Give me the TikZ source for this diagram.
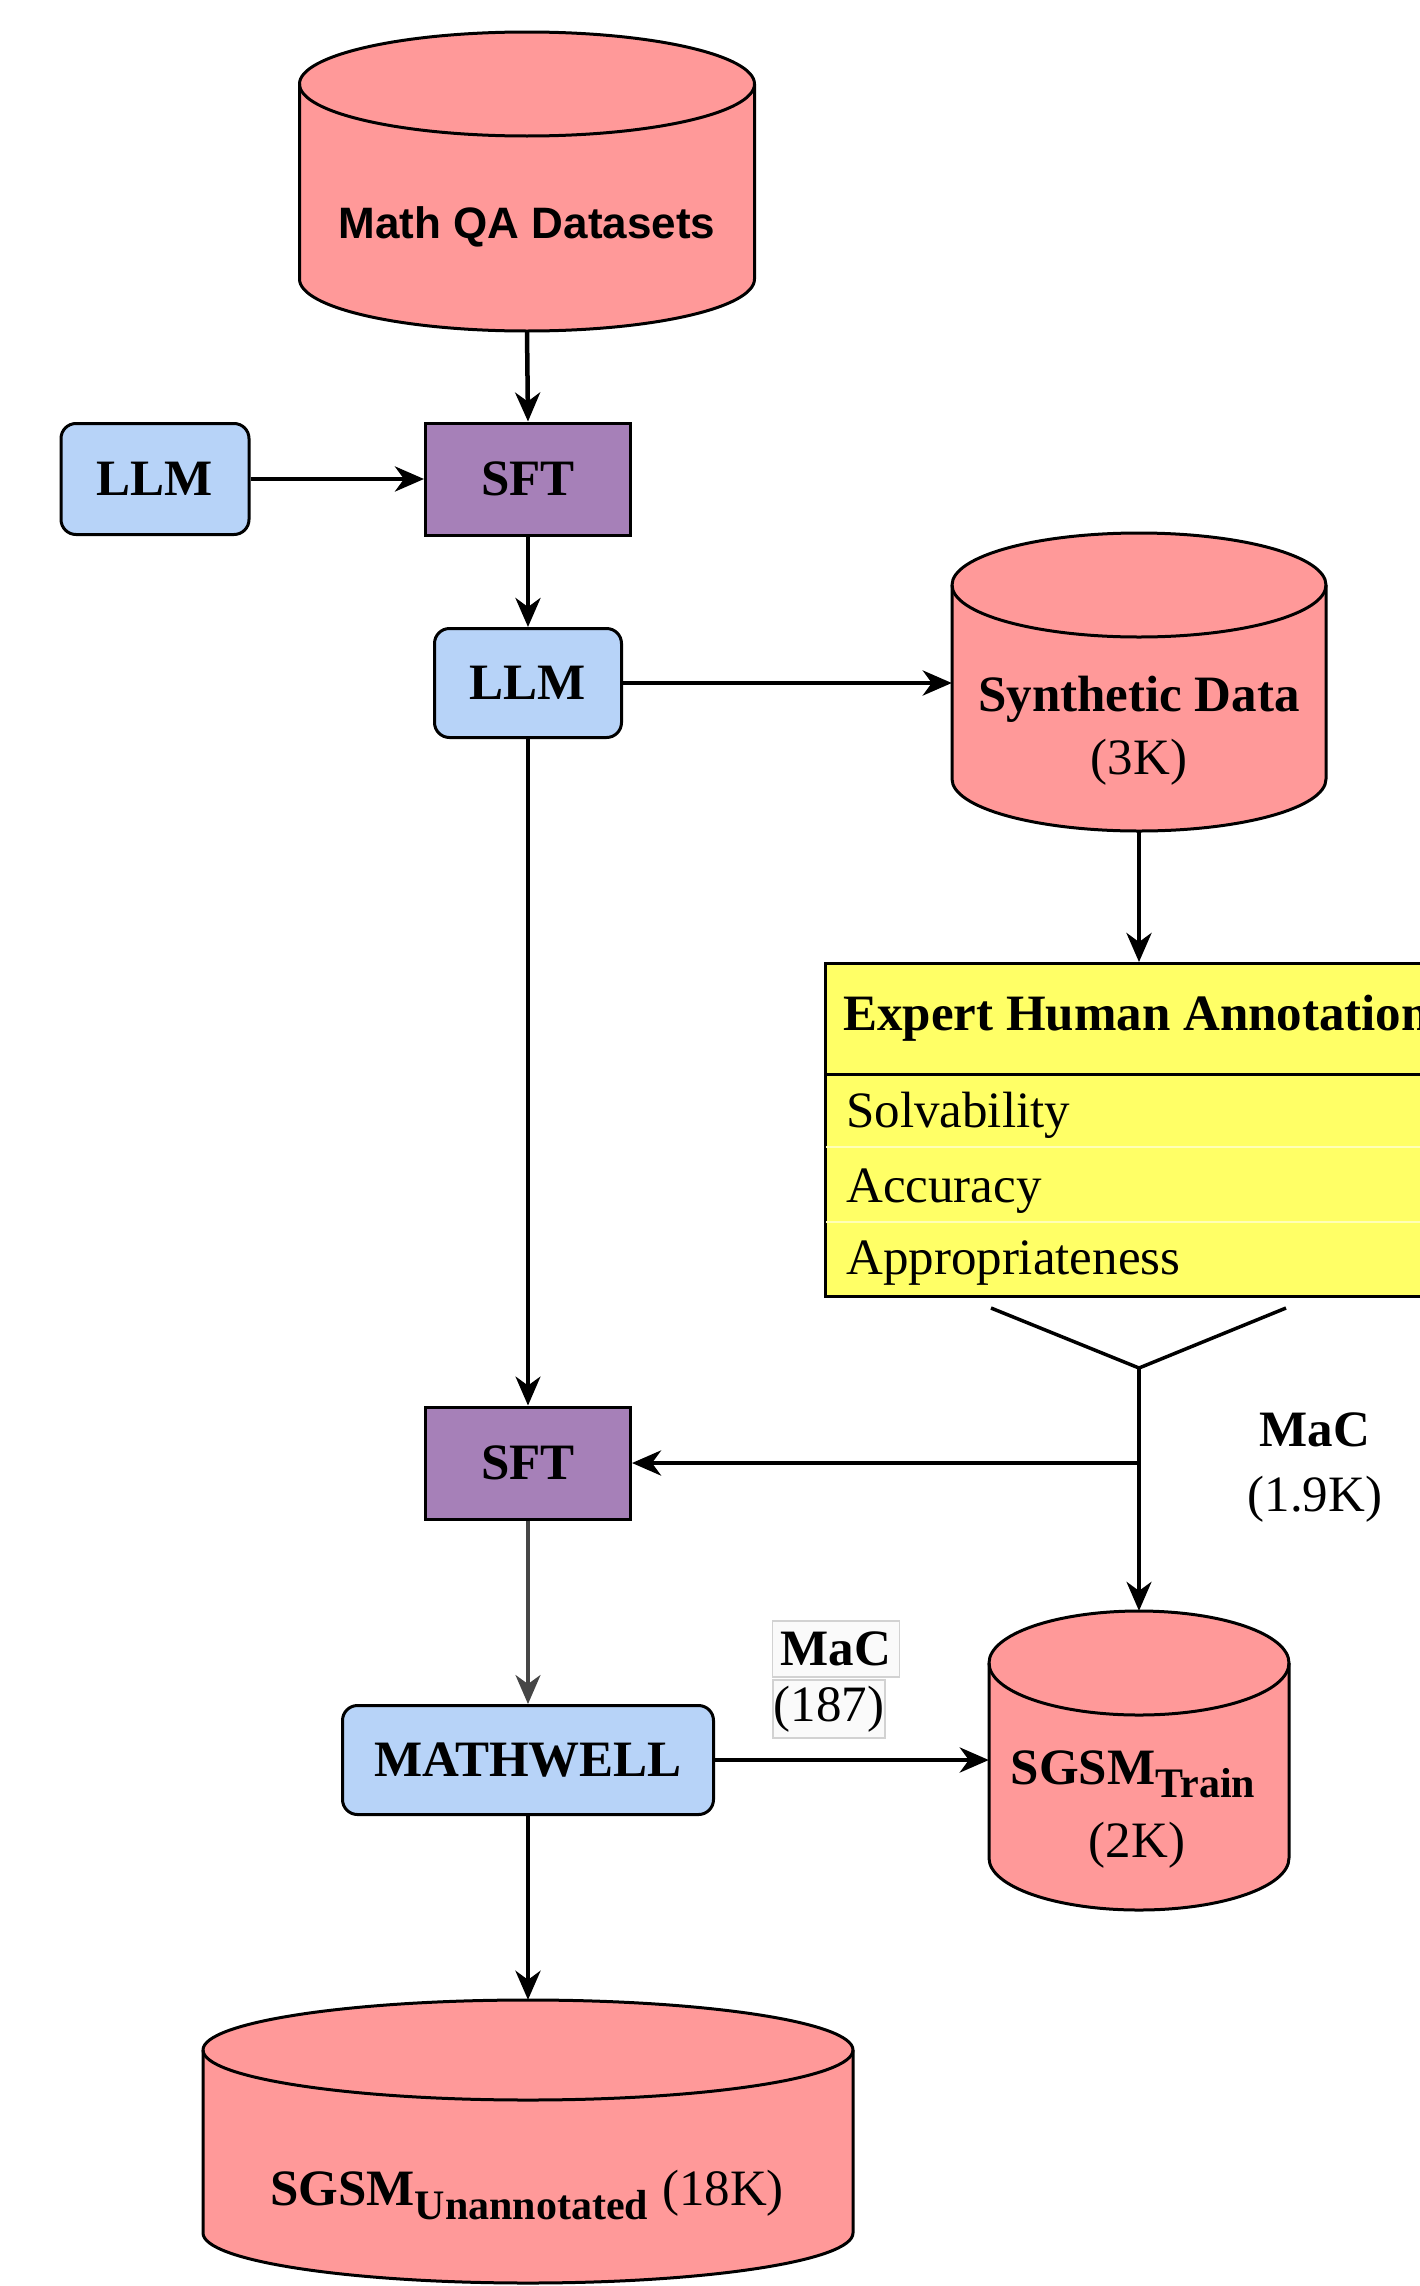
\documentclass[tikz,border=0pt]{standalone}
\usepackage{fontspec}
\setmainfont{Liberation Serif}
\newfontfamily\arialfont{Liberation Sans}
\usetikzlibrary{arrows.meta,fit}
\definecolor{cylfill}{HTML}{FF9999}
\definecolor{llmfill}{HTML}{B7D3F8}
\definecolor{sftfill}{HTML}{A680B8}
\definecolor{tabfill}{HTML}{FFFF66}
\definecolor{rowsep}{HTML}{FFFFB8}
% #1 cx, #2 top, #3 bottom, #4 rx, #5 ry, #6 name
\newcommand\drawcyl[6]{%
  \filldraw[fill=cylfill, draw=black, line width=3pt]
    (#1-#4,#2+#5) -- (#1-#4,#3-#5)
    arc[start angle=180, end angle=360, x radius=#4pt, y radius=#5pt]
    -- (#1+#4,#2+#5)
    arc[start angle=0, end angle=180, x radius=#4pt, y radius=#5pt] -- cycle;
  \draw[line width=3pt] (#1-#4,#2+#5)
    arc[start angle=180, end angle=360, x radius=#4pt, y radius=#5pt];
  \coordinate (#6-nw) at (#1-#4,#2);
  \coordinate (#6-se) at (#1+#4,#3);
  \node[fit=(#6-nw)(#6-se), inner sep=0pt] (#6) {};
}
\begin{document}
\begin{tikzpicture}[x=1pt,y=-1pt,
  bfbig/.style={font=\fontsize{51}{60}\selectfont\bfseries},
  rmbig/.style={font=\fontsize{51}{60}\selectfont},
  llmbox/.style={draw=black, line width=3pt, fill=llmfill, rounded corners=15pt, inner sep=0pt, bfbig},
  sftbox/.style={draw=black, line width=3pt, fill=sftfill, inner sep=0pt, bfbig},
  arr/.style={-{Stealth[length=29pt,width=25pt,inset=9pt]}, line width=4.5pt},
  thinarr/.style={-{Stealth[length=29pt,width=25pt,inset=9pt]}, line width=3.2pt},
  labbox/.style={draw=gray!35, fill=gray!4, line width=1.5pt, inner sep=0pt},
]
\useasboundingbox (0,0) rectangle (1420,2286);
\fill[white] (0,0) rectangle (1420,2286);
\begin{scope}
\clip (0,0) rectangle (1420,2286);

% cylinders
\drawcyl{527}{32}{331}{227.5}{52}{mqa}
\drawcyl{1139}{533}{831}{187}{52}{synth}
\drawcyl{1139}{1611}{1910}{150}{52}{sgtrain}
\drawcyl{528}{2000}{2283}{325}{50}{sgun}

\node[anchor=base, font=\arialfont\bfseries\fontsize{44}{50}\selectfont] (mqat) at (527,238) {Math QA Datasets};
\node[anchor=base, bfbig] (syntht) at (1139,711) {Synthetic Data};
\node[anchor=base, rmbig] (synthn) at (1139,774) {(3K)};
\node[anchor=base, bfbig] (sgtraint) at (1133,1784) {SGSM\raisebox{-13pt}{\fontsize{42}{42}\selectfont Train}};
\node[anchor=base, rmbig] (sgtrainn) at (1137,1857) {(2K)};
\node[anchor=base, bfbig] (sgunt) at (527,2205) {SGSM\raisebox{-14pt}{\fontsize{42}{42}\selectfont Unannotated}\hspace{14pt}\mdseries (18K)};

% boxes
\node[llmbox, minimum width=188pt, minimum height=111pt] (llm1) at (155,479) {LLM};
\node[sftbox, minimum width=205pt, minimum height=112pt] (sft1) at (528,479) {SFT};
\node[llmbox, minimum width=187pt, minimum height=109pt] (llm2) at (528,683) {LLM};
\node[sftbox, minimum width=205pt, minimum height=112pt] (sft2) at (528,1463) {SFT};
\node[llmbox, minimum width=371pt, minimum height=109pt] (mw) at (528,1760) {MATHWELL};

% table
\node[draw=black, line width=3pt, fill=tabfill, minimum width=620pt, minimum height=333pt, anchor=north west, inner sep=0pt] (eha) at (824,962) {};
\draw[line width=3pt] (824,1074) -- (1444,1074);
\draw[rowsep, line width=2pt] (826,1147) -- (1444,1147);
\draw[rowsep, line width=2pt] (826,1222) -- (1444,1222);
\node[anchor=base west, bfbig, inner sep=0pt] (ehat) at (843,1030) {Expert Human Annotation};
\node[anchor=base west, rmbig, inner sep=0pt] (r1) at (846,1127) {Solvability};
\node[anchor=base west, rmbig, inner sep=0pt] (r2) at (846,1202) {Accuracy};
\node[anchor=base west, rmbig, inner sep=0pt] (r3) at (846,1274) {Appropriateness};

% merge
\coordinate (yl) at (991,1308);
\coordinate (yr) at (1286,1308);
\coordinate (yj) at (1139,1368);
\draw[line width=3.5pt] (yl) -- (yj) -- (yr);

% labels
\node[anchor=base, bfbig] (mac1) at (1315,1446) {MaC};
\node[anchor=base, rmbig] (mac1n) at (1315,1511) {(1.9K)};
\node[labbox, minimum width=127pt, minimum height=56pt, bfbig] (mac2) at (836,1649) {MaC};
\node[labbox, minimum width=112pt, minimum height=58pt, rmbig] (mac2n) at (829,1709) {(187)};

% connectors
\draw[arr] (mqa.south) -- (sft1.north);
\draw[arr] (llm1.east) -- (sft1.west);
\draw[arr] (sft1.south) -- (llm2.north);
\draw[arr] (llm2.east) -- (llm2.east -| synth.west);
\draw[arr] (synth.south) -- (synth.south |- eha.north);
\draw[thinarr] (llm2.south) -- (sft2.north);
\draw[thinarr] (yj) -- (sgtrain.north);
\draw[arr] (yj |- sft2.east) -- (sft2.east);
\draw[thinarr, draw=gray!55!black] (sft2.south) -- (mw.north);
\draw[arr] (mw.east) -- (mw.east -| sgtrain.west);
\draw[arr] (mw.south) -- (sgun.north);
\end{scope}
\end{tikzpicture}
\end{document}
